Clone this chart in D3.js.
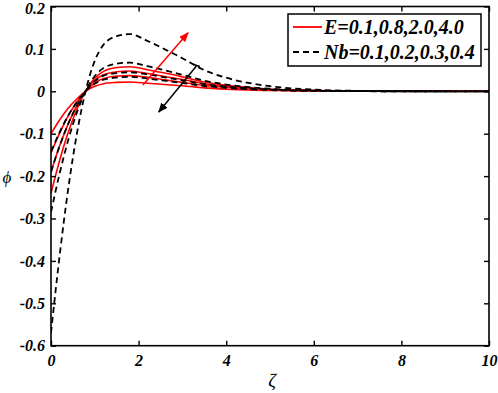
<!DOCTYPE html>
<html><head><meta charset="utf-8">
<script src="https://cdn.jsdelivr.net/npm/d3@7/dist/d3.min.js"></script>
<style>
body{margin:0;background:#fff;}
svg{display:block;}
.tick text{font-family:"Liberation Serif","Times New Roman",serif;font-weight:bold;font-style:italic;font-size:16px;fill:#000;}
</style></head>
<body><svg id="chart" width="498" height="393"></svg>
<script>
// ---- data ----
const zeta = [0,0.2,0.4,0.6,0.8,1.0,1.2,1.5,1.8,2.2,2.6,3.0,3.5,4.0,4.5,5.0,6.0,7.0,8.0,10];

// E = 0.1, 0.8, 2.0, 4.0 (solid red)
const phiE01 = [-0.100,-0.067,-0.039,-0.017,0.001,0.012,0.018,0.021,0.022,0.019,0.016,0.013,0.008,0.005,0.003,0.002,0.0007,0.0002,0,0];
const phiE08 = [-0.145,-0.098,-0.057,-0.024,0.001,0.020,0.030,0.036,0.037,0.033,0.027,0.021,0.014,0.009,0.0055,0.0033,0.0011,0.0003,0.0001,0];
const phiE20 = [-0.190,-0.128,-0.075,-0.032,0.002,0.026,0.039,0.046,0.048,0.042,0.035,0.028,0.018,0.011,0.007,0.004,0.0015,0.0004,0.0001,0];
const phiE40 = [-0.240,-0.162,-0.095,-0.040,0.002,0.031,0.047,0.056,0.058,0.051,0.043,0.034,0.022,0.014,0.009,0.005,0.002,0.0004,0.0001,0];

// Nb = 0.1, 0.2, 0.3, 0.4 (dashed black)
const phiNb01 = [-0.570,-0.385,-0.225,-0.095,0.005,0.072,0.110,0.130,0.135,0.119,0.099,0.078,0.050,0.032,0.020,0.012,0.004,0.001,0.0002,0];
const phiNb02 = [-0.285,-0.1925,-0.1125,-0.0475,0.0025,0.036,0.055,0.065,0.0675,0.0595,0.0495,0.039,0.025,0.016,0.010,0.006,0.002,0.0005,0.0001,0];
const phiNb03 = [-0.190,-0.128,-0.075,-0.032,0.002,0.024,0.037,0.043,0.045,0.040,0.033,0.026,0.017,0.011,0.007,0.004,0.0013,0.0003,0.0001,0];
const phiNb04 = [-0.1425,-0.096,-0.056,-0.024,0.001,0.018,0.0275,0.0325,0.034,0.030,0.025,0.0195,0.0125,0.008,0.005,0.003,0.001,0.0003,0,0];

const xTicks = [0,2,4,6,8,10];
const xTickLabels = ["0","2","4","6","8","10"];
const yTicks = [-0.6,-0.5,-0.4,-0.3,-0.2,-0.1,0,0.1,0.2];
const yTickLabels = ["-0.6","-0.5","-0.4","-0.3","-0.2","-0.1","0","0.1","0.2"];
const legendLabels = ["E=0.1,0.8,2.0,4.0","Nb=0.1,0.2,0.3,0.4"];
// arrow annotations in data coords [zeta, phi]
const redArrow = [[2.1,0.015],[3.13,0.138]];
const blackArrow = [[3.33,0.061],[2.46,-0.049]];

// ---- chart ----
const svg = d3.select("#chart");
const m = {l:51, r:489, t:6.5, b:345.7};
const x = d3.scaleLinear().domain([0,10]).range([m.l, m.r]);
const y = d3.scaleLinear().domain([-0.6,0.2]).range([m.b, m.t]);

const defs = svg.append("defs");
defs.append("clipPath").attr("id","clip").append("rect")
  .attr("x",m.l).attr("y",m.t).attr("width",m.r-m.l).attr("height",m.b-m.t);
function marker(id,color){
  defs.append("marker").attr("id",id).attr("viewBox","0 0 10 10")
    .attr("refX",9).attr("refY",5).attr("markerWidth",10).attr("markerHeight",10)
    .attr("markerUnits","userSpaceOnUse").attr("orient","auto")
    .append("path").attr("d","M0,1 L10,5 L0,9 Z").attr("fill",color);
}
marker("arrRed","#ff0000");
marker("arrBlack","#000");

const line = d3.line().x((d,i)=>x(zeta[i])).y(d=>y(d)).curve(d3.curveMonotoneX);
const g = svg.append("g").attr("clip-path","url(#clip)");

[phiE01,phiE08,phiE20,phiE40].forEach(s=>{
  g.append("path").attr("d",line(s)).attr("fill","none")
   .attr("stroke","#ff0000").attr("stroke-width",1.6);
});
[phiNb01,phiNb02,phiNb03,phiNb04].forEach(s=>{
  g.append("path").attr("d",line(s)).attr("fill","none")
   .attr("stroke","#000").attr("stroke-width",1.8).attr("stroke-dasharray","6,4");
});

// arrows
svg.append("line")
  .attr("x1",x(redArrow[0][0])).attr("y1",y(redArrow[0][1]))
  .attr("x2",x(redArrow[1][0])).attr("y2",y(redArrow[1][1]))
  .attr("stroke","#ff0000").attr("stroke-width",1.5).attr("marker-end","url(#arrRed)");
svg.append("line")
  .attr("x1",x(blackArrow[0][0])).attr("y1",y(blackArrow[0][1]))
  .attr("x2",x(blackArrow[1][0])).attr("y2",y(blackArrow[1][1]))
  .attr("stroke","#000").attr("stroke-width",1.5).attr("marker-end","url(#arrBlack)");
// small cap bar at black arrow start
{
  const x1=x(blackArrow[0][0]), y1=y(blackArrow[0][1]);
  svg.append("line").attr("x1",x1-3).attr("y1",y1-1).attr("x2",x1+3).attr("y2",y1+1)
    .attr("stroke","#000").attr("stroke-width",1.5);
}

// axes
const ax = svg.append("g");
ax.append("g").attr("transform",`translate(0,${m.b})`)
  .call(d3.axisBottom(x).tickValues(xTicks).tickFormat((d,i)=>xTickLabels[i]).tickSize(-5).tickSizeOuter(0).tickPadding(9));
ax.append("g").attr("transform",`translate(0,${m.t})`)
  .call(d3.axisTop(x).tickValues(xTicks).tickFormat("").tickSize(-5).tickSizeOuter(0));
ax.append("g").attr("transform",`translate(${m.l},0)`)
  .call(d3.axisLeft(y).tickValues(yTicks).tickFormat((d,i)=>yTickLabels[i]).tickSize(-5).tickSizeOuter(0).tickPadding(6));
ax.append("g").attr("transform",`translate(${m.r},0)`)
  .call(d3.axisRight(y).tickValues(yTicks).tickFormat("").tickSize(-5).tickSizeOuter(0));
ax.selectAll(".domain").remove();
ax.selectAll(".tick line").attr("stroke","#000").attr("stroke-width",1.4);
// nudge top label down slightly so it stays in view
ax.selectAll(".tick text").filter(function(){return this.textContent==="0.2";}).attr("dy","0.45em");
svg.append("rect").attr("x",m.l).attr("y",m.t).attr("width",m.r-m.l).attr("height",m.b-m.t)
  .attr("fill","none").attr("stroke","#000").attr("stroke-width",1.6);

// axis labels
svg.append("text").attr("x",272).attr("y",387).attr("text-anchor","middle")
  .style("font-family","Liberation Serif, serif").style("font-style","italic").style("font-size","19px")
  .text("ζ");
svg.append("text").attr("x",7).attr("y",183).attr("text-anchor","middle")
  .style("font-family","Liberation Serif, serif").style("font-style","italic").style("font-size","17px")
  .text("ϕ");

// legend
const lg = svg.append("g");
lg.append("rect").attr("x",288).attr("y",14).attr("width",193).attr("height",52)
  .attr("fill","#fff").attr("stroke","#000").attr("stroke-width",1.5);
const rows = [{y:27,c:"#ff0000",dash:null,w:1.8},{y:52,c:"#000",dash:"6,4",w:1.8}];
rows.forEach((r,i)=>{
  lg.append("line").attr("x1",293).attr("x2",322).attr("y1",r.y).attr("y2",r.y)
    .attr("stroke",r.c).attr("stroke-width",r.w).attr("stroke-dasharray",r.dash);
  lg.append("text").attr("x",324).attr("y",r.y).attr("dy","0.34em")
    .style("font-family","Liberation Serif, serif").style("font-weight","bold").style("font-style","italic")
    .style("font-size","20px").text(legendLabels[i]);
});
</script></body></html>
